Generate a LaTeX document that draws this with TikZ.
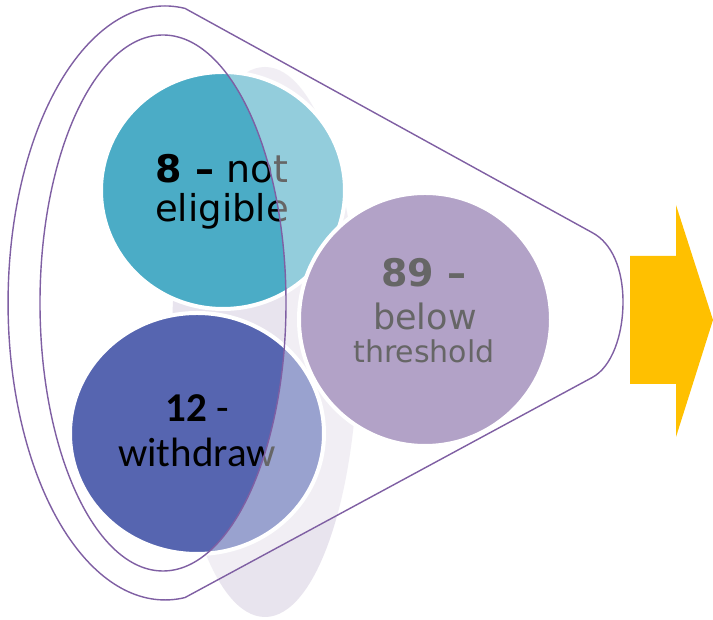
\documentclass[tikz,border=0pt]{standalone}
\usepackage{fontspec}
\usetikzlibrary{shapes.geometric}
\newfontfamily\dejavu{DejaVu Sans}
\newfontfamily\carlito{Carlito}
\definecolor{tealc}{HTML}{4BACC6}
\definecolor{bluec}{HTML}{5665B0}
\definecolor{purplec}{HTML}{8064A2}
\definecolor{blobc}{HTML}{E8E4EE}
\definecolor{linec}{HTML}{7F5FA3}
\definecolor{arrowc}{HTML}{FFC000}
\tikzset{
  ball/.style={ellipse, draw=white, line width=4pt, inner sep=0pt},
  lbl/.style={anchor=base, inner sep=0pt, text=black},
  funnelline/.style={draw=linec, line width=1.4pt},
}
\begin{document}
\begin{tikzpicture}[x=1pt,y=1pt]
\fill[white] (0,0) rectangle (713,620);
\useasboundingbox (0,0) rectangle (713,620);
% background blob
\fill[blobc] (265,278) ellipse [x radius=93pt, y radius=275pt];
% circles
\node[ball, fill=tealc, minimum width=244pt, minimum height=237pt] (teal) at (223,429.5) {};
\node[ball, fill=bluec, minimum width=254pt, minimum height=241pt] (blue) at (197,186.5) {};
\node[ball, fill=purplec, minimum width=252pt, minimum height=253pt] (purple) at (425,300.5) {};
% texts
\node[lbl, font=\dejavu\fontsize{38}{40}\selectfont] (t1a) at (222,437) {\textbf{8 –} not};
\node[lbl, font=\dejavu\fontsize{37}{40}\selectfont] (t1b) at (222,398) {eligible};
\node[lbl, font=\carlito\fontsize{41}{44}\selectfont] (t2a) at (197,198) {\textbf{12} -};
\node[lbl, font=\carlito\fontsize{41}{44}\selectfont] (t2b) at (197,153) {withdraw};
\node[lbl, font=\dejavu\fontsize{38}{40}\selectfont] (t3a) at (424,333) {\textbf{89 –}};
\node[lbl, font=\dejavu\fontsize{35}{38}\selectfont] (t3b) at (425,290) {below};
\node[lbl, font=\dejavu\fontsize{30}{33}\selectfont] (t3c) at (424,257) {threshold};
% funnel body overlay
\fill[white, opacity=0.4, even odd rule]
  (185,611.6) arc[start angle=82.7, end angle=277.3, x radius=157pt, y radius=297pt]
  -- (592,242.4) .. controls (612,253) and (623,285) .. (623,318)
  .. controls (623,351) and (612,377) .. (592,387.5) -- cycle
  (163,317) ellipse [x radius=123pt, y radius=268pt];
% funnel outlines
\draw[funnelline]
  (185,611.6) arc[start angle=82.7, end angle=277.3, x radius=157pt, y radius=297pt]
  -- (592,242.4) .. controls (612,253) and (623,285) .. (623,318)
  .. controls (623,351) and (612,377) .. (592,387.5) -- cycle;
\draw[funnelline] (163,317) ellipse [x radius=123pt, y radius=268pt];
% arrow
\fill[arrowc] (630,236) -- (676,236) -- (676,183) -- (713,300) -- (676,415) -- (676,364) -- (630,364) -- cycle;
\end{tikzpicture}
\end{document}
